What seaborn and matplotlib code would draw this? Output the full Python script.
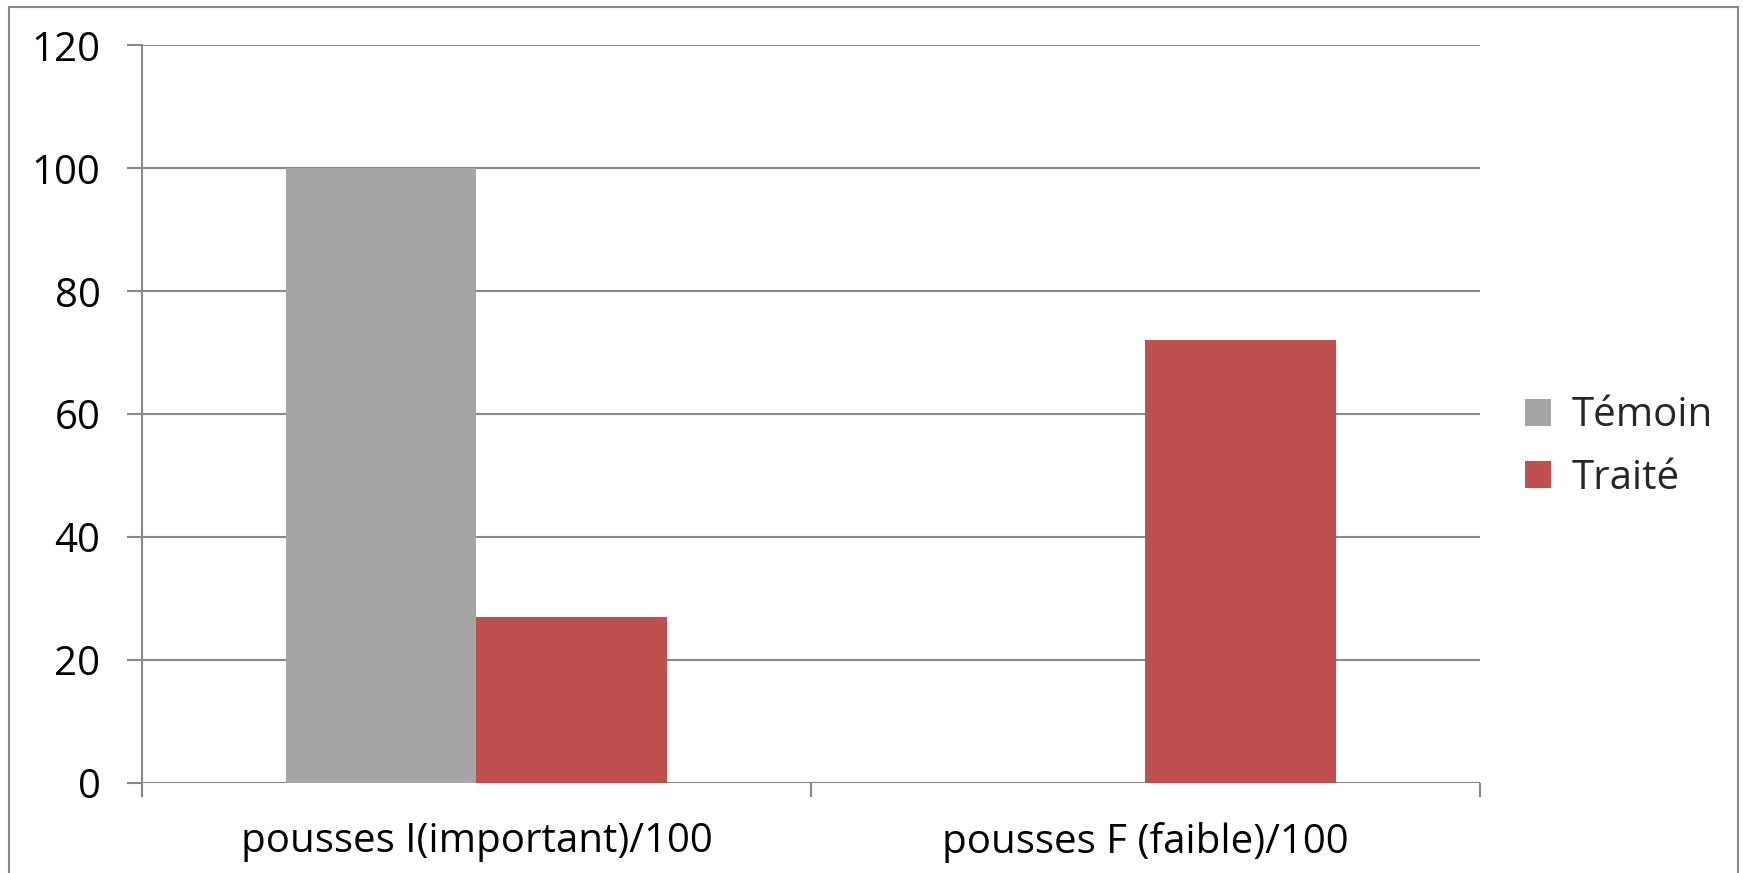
import pandas as pd
import matplotlib.pyplot as plt
import seaborn as sns
from matplotlib.patches import Rectangle

categories = ["pousses I(important)/100", "pousses F (faible)/100"]
series = ["Témoin", "Traité"]
temoin = [100, 0]
traite = [27, 72]
yticks = [0, 20, 40, 60, 80, 100, 120]

df = pd.DataFrame({
    "cat": categories * 2,
    "serie": [series[0]] * 2 + [series[1]] * 2,
    "val": temoin + traite,
})

sns.set_style("white")
plt.rcParams["font.family"] = ["Open Sans", "DejaVu Sans"]

fig = plt.figure(figsize=(17.43, 8.73), dpi=100)
ax = fig.add_axes([0.0815, 0.103, 0.7675, 0.845])

sns.barplot(data=df, x="cat", y="val", hue="serie", ax=ax,
            palette=["#a5a5a5", "#c0504d"], width=0.57, saturation=1,
            linewidth=0)

ax.set_ylim(0, 120)
ax.set_xlim(-0.5, 1.5)
ax.set_yticks(yticks)
ax.yaxis.grid(True, color="#888888", linewidth=1.5)
ax.set_axisbelow(True)
for s in ["top", "right", "bottom"]:
    ax.spines[s].set_visible(False)
ax.spines["left"].set_color("#888888")
ax.spines["left"].set_linewidth(1.5)
ax.axhline(0, color="#888888", linewidth=2, zorder=0.5)

# category labels sit between the group separator ticks
ax.set_xticks([-0.5, 0.5, 1.5], minor=False)
ax.set_xticklabels([])
ax.set_xticks([0, 1], minor=True)
ax.set_xticklabels(categories, minor=True, fontsize=29, color="black")
ax.tick_params(axis="x", which="major", length=10, width=1.5, color="#888888", bottom=True)
ax.tick_params(axis="x", which="minor", length=0, pad=28)
ax.tick_params(axis="y", length=11, width=1.5, color="#888888", left=True,
               labelsize=29, labelcolor="black", pad=19)
ax.set_xlabel("")
ax.set_ylabel("")

ax.legend(loc="center left", bbox_to_anchor=(1.034, 0.455), frameon=False,
          fontsize=29, handlelength=0.65, handleheight=0.65,
          handletextpad=0.5, labelspacing=0.55, borderaxespad=0, borderpad=0)

fig.patches.append(Rectangle((9 / 1743, -0.01), (1738 - 9) / 1743, 1 - 7 / 873 + 0.01,
                             transform=fig.transFigure, fill=False,
                             edgecolor="#888888", linewidth=1.5))

fig.savefig("out.png", dpi=100)
